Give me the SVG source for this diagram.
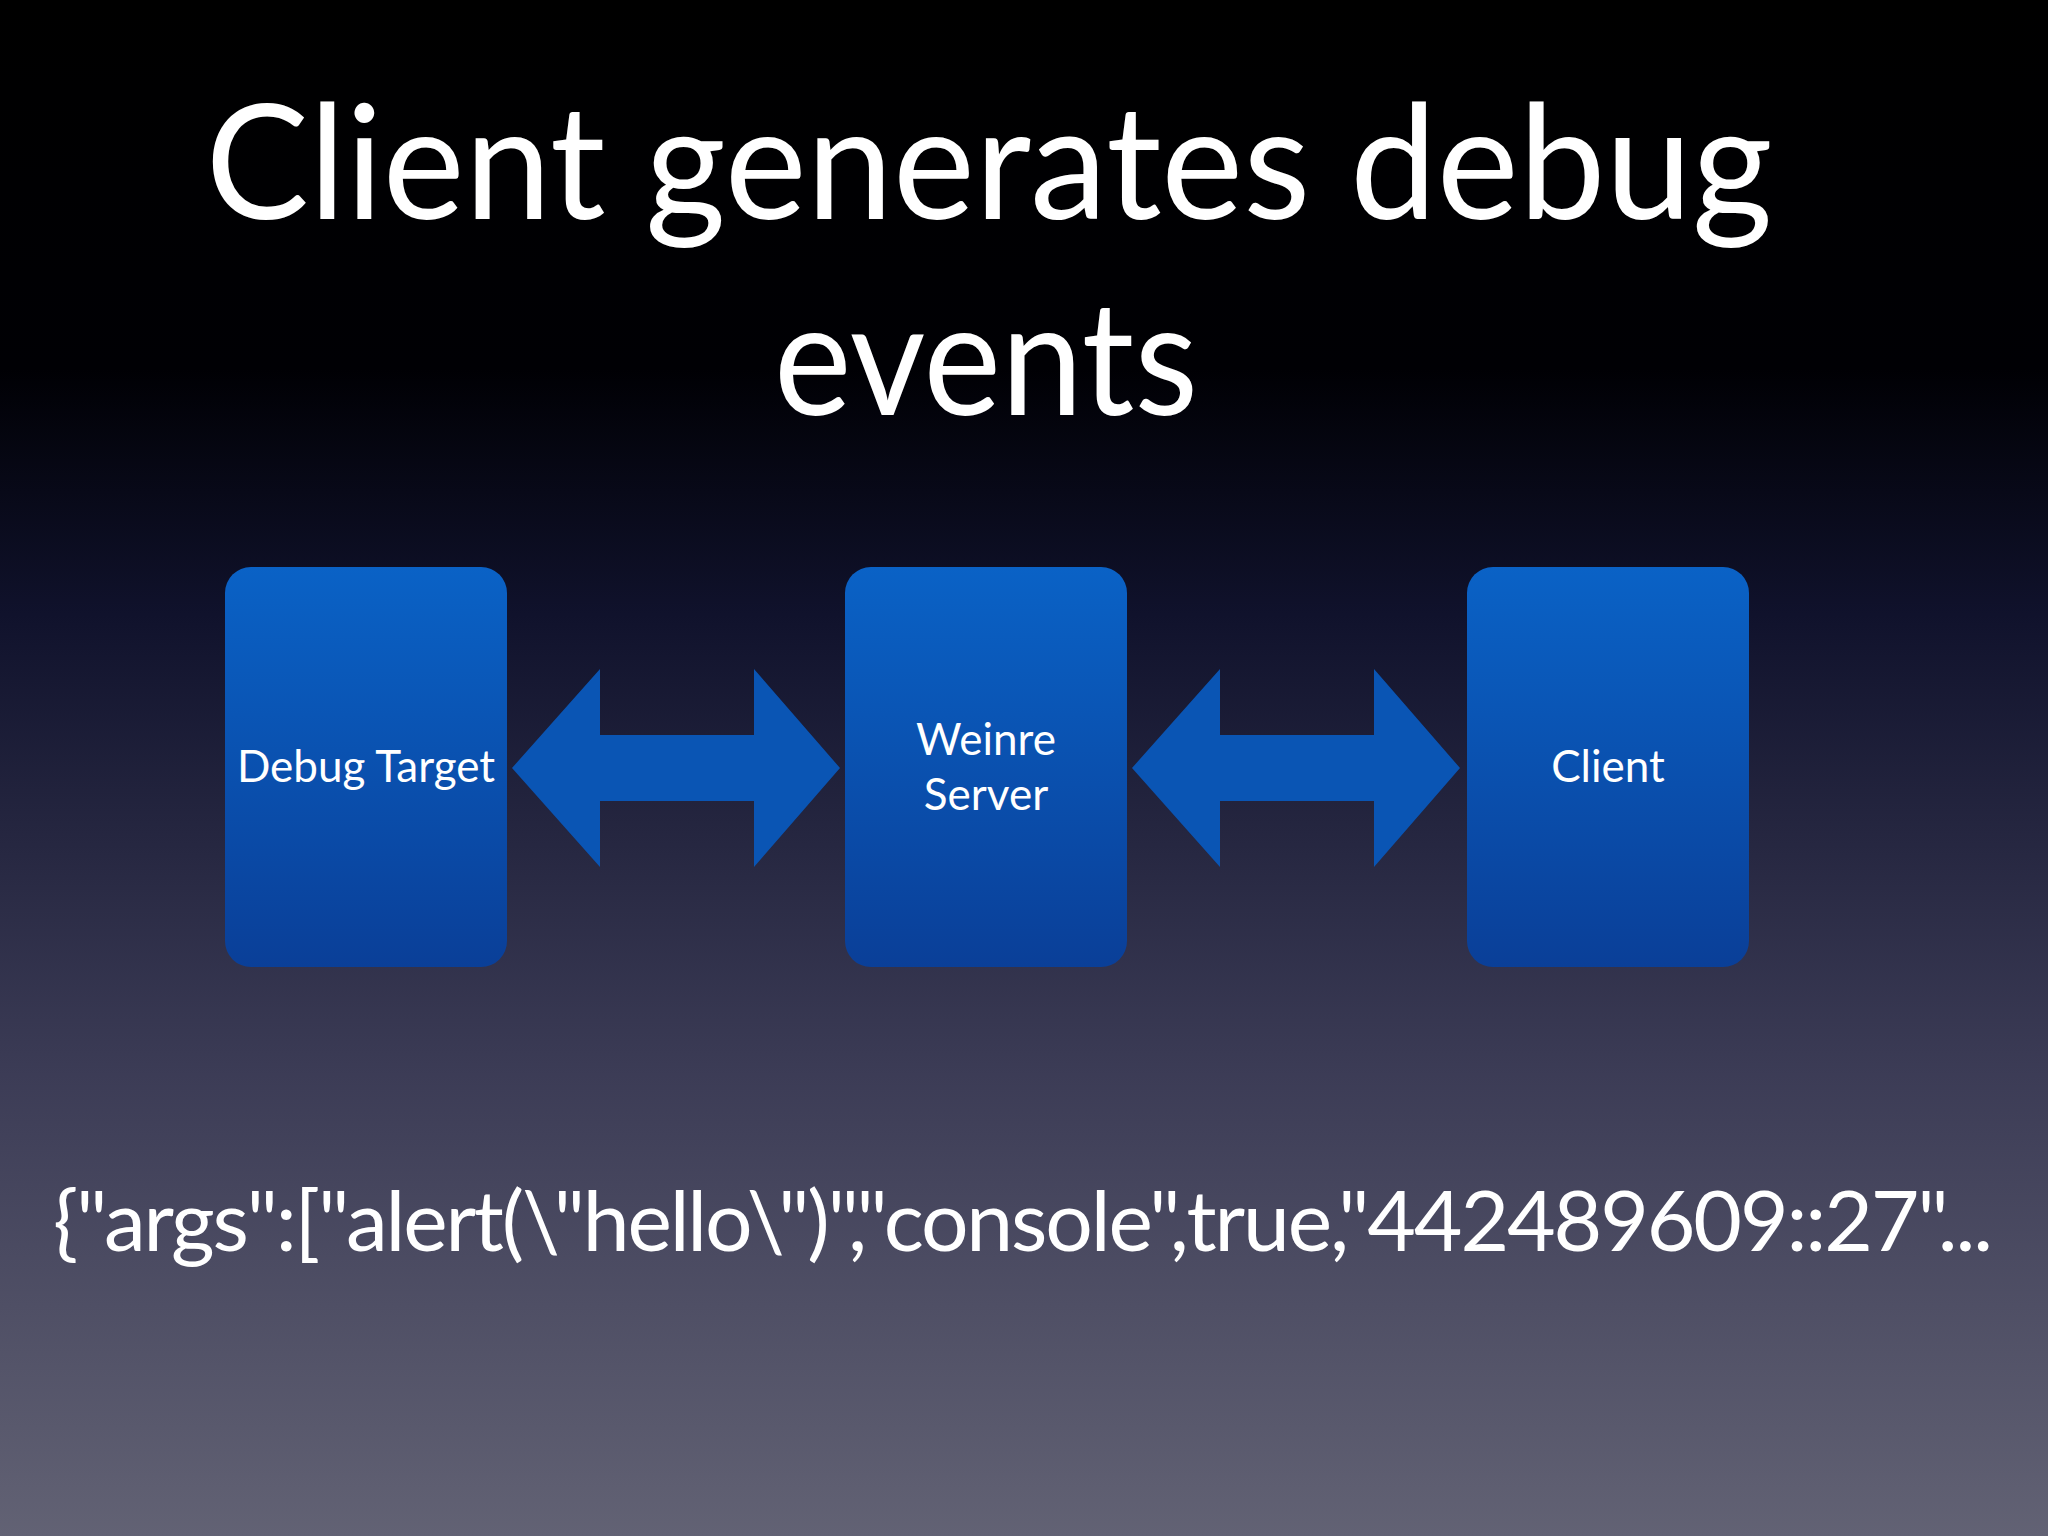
<svg xmlns="http://www.w3.org/2000/svg" width="2048" height="1536" viewBox="0 0 2048 1536">
<defs>
<linearGradient id="bg" x1="0" y1="0" x2="0" y2="1">
<stop offset="0" stop-color="#000000"/>
<stop offset="0.24" stop-color="#000004"/>
<stop offset="0.4" stop-color="#10122c"/>
<stop offset="0.7" stop-color="#3c3c56"/>
<stop offset="1" stop-color="#626274"/>
</linearGradient>
<linearGradient id="box" x1="0" y1="0" x2="0" y2="1">
<stop offset="0" stop-color="#0a62c6"/>
<stop offset="1" stop-color="#0a3f98"/>
</linearGradient>
<style>
.t{font-family:"Lato","Open Sans",sans-serif;fill:#fff;text-anchor:middle}
.n{fill:url(#box)}
.a{fill:#0a55b4}
</style>
</defs>
<rect width="2048" height="1536" fill="url(#bg)"/>
<text class="t" x="989" y="219" font-size="160" textLength="1567" lengthAdjust="spacingAndGlyphs">Client generates debug</text>
<text class="t" x="986" y="415" font-size="160" textLength="424" lengthAdjust="spacingAndGlyphs">events</text>
<g id="connectors">
<polygon class="a" points="512,768 600,669 600,735 754,735 754,669 840,768 754,867 754,801 600,801 600,867"/>
<polygon class="a" points="1132,768 1220,669 1220,735 1374,735 1374,669 1460,768 1374,867 1374,801 1220,801 1220,867"/>
</g>
<g id="debug-target"><rect class="n" x="225" y="567" width="282" height="400" rx="26"/>
<text class="t" x="366" y="782" font-size="44">Debug Target</text></g>
<g id="weinre-server"><rect class="n" x="845" y="567" width="282" height="400" rx="26"/>
<text class="t" x="986" y="755" font-size="44">Weinre</text>
<text class="t" x="986" y="810" font-size="44">Server</text></g>
<g id="client"><rect class="n" x="1467" y="567" width="282" height="400" rx="26"/>
<text class="t" x="1608" y="782" font-size="44">Client</text></g>
<text class="t" x="1023" y="1251" font-size="84" textLength="1940" lengthAdjust="spacing">{"args":["alert(\"hello\")","console",true,"442489609::27"...</text>
</svg>
